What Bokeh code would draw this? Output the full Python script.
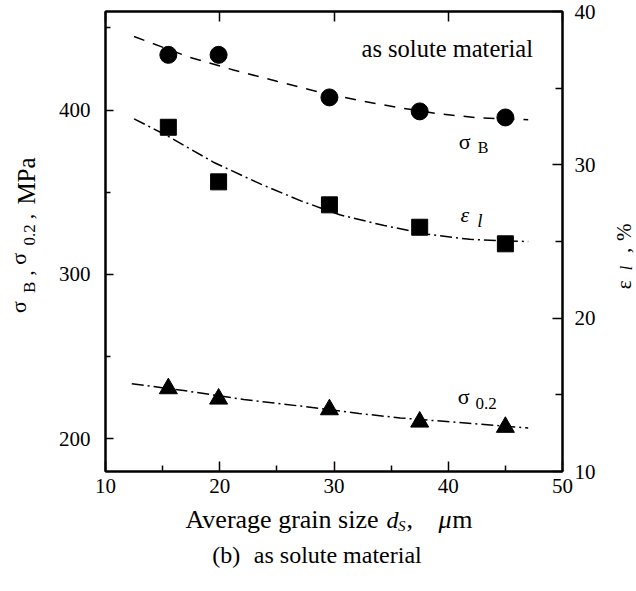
from bokeh.plotting import figure
from bokeh.models import Range1d, LinearAxis, FixedTicker, Label
from bokeh.layouts import column, row
from bokeh.embed import file_html
from bokeh.resources import INLINE
import math

# ---------------- data ----------------
grain_size = [15.5, 19.9, 29.6, 37.5, 45.0]           # average grain size d_S, um
sigma_B = [433.6, 433.6, 407.7, 399.2, 395.5]        # MPa (left axis)
elongation = [32.45, 28.89, 27.39, 25.93, 24.85]     # epsilon_l, % (right axis)
sigma_02 = [230.5, 224.2, 217.7, 210.2, 207.0]       # MPa (left axis)

# fitted trend curves
sigB_curve_x = [12.5, 17.3, 21.2, 25.0, 28.8, 32.3, 35.5, 39.3, 42.8, 47.0]
sigB_curve_y = [444.8, 432.3, 424.4, 417.5, 410.8, 405.7, 401.7, 397.6, 395.2, 394.1]
eps_curve_x = [12.5, 15.4, 19.5, 23.6, 27.1, 30.5, 34.4, 38.2, 41.9, 44.5, 47.0]
eps_curve_y = [33.0, 31.9, 30.15, 28.74, 27.65, 26.74, 26.04, 25.47, 25.14, 25.05, 25.0]
s02_curve_x = [12.3, 16.85, 22.1, 27.07, 32.2, 35.8, 47.0]
s02_curve_y = [233.4, 229.3, 223.8, 219.8, 215.3, 212.6, 206.5]

x_ticks = [10, 20, 30, 40, 50]
x_minor = [15, 25, 35, 45]
left_ticks = [200, 300, 400]
left_minor = [250, 350, 450]
right_ticks = [10, 20, 30, 40]
right_minor = [15, 25, 35]

FONT = "Liberation Serif"
R = math.pi / 2

# panel geometry (pixels)
LEFT_W, RIGHT_W, TOTAL_W = 50, 31, 636
TOP_H, BOTTOM_H = 505, 83
MAIN_W = TOTAL_W - LEFT_W - RIGHT_W


def blank(width, height, x0, x1, y0, y1):
    f = figure(width=width, height=height, output_backend="svg", toolbar_location=None,
               x_range=Range1d(x0, x1), y_range=Range1d(y1, y0),
               x_axis_location=None, y_axis_location=None, min_border=0)
    f.outline_line_color = None
    f.grid.visible = False
    f.background_fill_color = "white"
    f.border_fill_color = "white"
    return f


def lab(f, x, y, text, size, style="normal", align="left", angle=0.0,
        y_range_name="default"):
    f.add_layout(Label(x=x, y=y, text=text, text_font=FONT,
                       text_font_size=f"{size}px", text_font_style=style,
                       text_align=align, text_baseline="middle", angle=angle,
                       text_color="black", y_range_name=y_range_name))


# ---------------- main chart ----------------
p = figure(width=MAIN_W, height=TOP_H, output_backend="svg", toolbar_location=None,
           x_range=Range1d(10, 50), y_range=Range1d(180, 460),
           x_axis_location=None, y_axis_location=None,
           min_border_left=105 - LEFT_W, min_border_right=LEFT_W + MAIN_W - 562,
           min_border_top=11, min_border_bottom=TOP_H - 471)
p.extra_y_ranges = {"eps": Range1d(10, 40)}
p.grid.visible = False
p.background_fill_color = "white"
p.border_fill_color = "white"
p.outline_line_color = "black"
p.outline_line_width = 2


def style(ax, ticks, minor, tick_in, minor_in, standoff, show_labels=True):
    ax.ticker = FixedTicker(ticks=ticks, minor_ticks=minor)
    ax.axis_line_color = "black"
    ax.axis_line_width = 2
    ax.major_tick_in = tick_in
    ax.major_tick_out = 0
    ax.minor_tick_in = minor_in
    ax.minor_tick_out = 0
    ax.major_tick_line_width = 1.5
    ax.minor_tick_line_width = 1.5
    ax.major_tick_line_color = "black"
    ax.minor_tick_line_color = "black" if minor else None
    ax.major_label_text_font = FONT
    ax.major_label_text_color = "black"
    ax.major_label_standoff = standoff
    if show_labels:
        ax.major_label_text_font_size = "21px"
    else:
        ax.major_label_text_font_size = "1px"
        ax.major_label_text_alpha = 0


bottom = LinearAxis()
style(bottom, x_ticks, x_minor, 10, 6, 7)
p.add_layout(bottom, "below")

top = LinearAxis()
style(top, x_ticks, [], 10, 0, 0, show_labels=False)
p.add_layout(top, "above")

left = LinearAxis()
style(left, left_ticks, left_minor, 8, 5, 15)
p.add_layout(left, "left")

right = LinearAxis(y_range_name="eps")
style(right, right_ticks, right_minor, 10, 7, 12)
p.add_layout(right, "right")

# trend curves
p.line(sigB_curve_x, sigB_curve_y, line_color="black", line_width=1.5, line_dash="11 9")
p.line(eps_curve_x, eps_curve_y, y_range_name="eps", line_color="black",
       line_width=1.5, line_dash="12 4 2 4")
p.line(s02_curve_x, s02_curve_y, line_color="black", line_width=1.5, line_dash="12 4 2 4")

# measured points
p.scatter(grain_size, sigma_B, marker="circle", size=17, color="black")
p.scatter(grain_size, elongation, marker="square", size=16, color="black",
          y_range_name="eps")
p.scatter(grain_size, sigma_02, marker="triangle", size=18, color="black")

# in-plot texts (data units)
lab(p, 39.91, 437.3, "as solute material", 24.5, align="center")
lab(p, 40.92, 380.9, "σ", 22)
lab(p, 42.59, 377.3, "B", 16)
lab(p, 41.07, 26.74, "ε", 22, style="italic", y_range_name="eps")
lab(p, 42.53, 26.40, "l", 19, style="italic", y_range_name="eps")
lab(p, 40.84, 225.7, "σ", 22)
lab(p, 42.39, 221.6, "0.2", 17)

# ---------------- left title panel (pixel coordinates) ----------------
lp = blank(LEFT_W, TOP_H, 0, LEFT_W, 0, TOP_H)
lab(lp, 17.5, 331, "σ", 22, angle=R)
lab(lp, 29.2, 309, "B", 17, angle=R)
lab(lp, 25.5, 290, ",", 22, angle=R)
lab(lp, 17.5, 278, "σ", 22, angle=R)
lab(lp, 29.2, 257, "0.2", 17, angle=R)
lab(lp, 25.5, 228, ",", 22, angle=R)
lab(lp, 25.5, 212, "MPa", 25, angle=R)

# ---------------- right title panel ----------------
x_off = LEFT_W + MAIN_W
rp = blank(RIGHT_W, TOP_H, x_off, TOTAL_W, 0, TOP_H)
lab(rp, 623.0, 305, "ε", 21, angle=R)
lab(rp, 625.5, 284, "l", 16, style="italic", angle=R)
lab(rp, 622.0, 265, ",", 21, angle=R)
lab(rp, 623.0, 252, "%", 21, angle=R)

# ---------------- bottom panel: axis title and caption ----------------
bp = blank(TOTAL_W, BOTTOM_H, 0, TOTAL_W, TOP_H, TOP_H + BOTTOM_H)
lab(bp, 185, 518.5, "Average grain size", 26)
lab(bp, 386, 519.0, "d", 24, style="italic")
lab(bp, 397.5, 525.6, "S", 15, style="italic")
lab(bp, 406, 518.5, ",", 26)
lab(bp, 438, 518.5, "μ", 26, style="italic")
lab(bp, 451.7, 518.5, "m", 26)
lab(bp, 211.7, 554.0, "(b)", 24)
lab(bp, 253.3, 554.0, "as solute material", 24)

layout = column(row(lp, p, rp), bp)
open("out.html", "w").write(file_html(layout, INLINE))
